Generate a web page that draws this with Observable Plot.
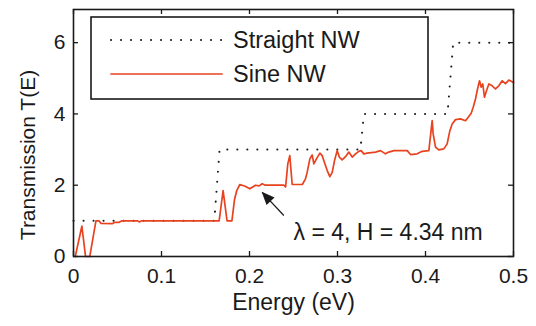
<!DOCTYPE html>
<html><head><meta charset="utf-8">
<script src="https://cdn.jsdelivr.net/npm/d3@7"></script>
<script src="https://cdn.jsdelivr.net/npm/@observablehq/plot@0.6"></script>
<style>body{margin:0;background:#fff} #chart{width:536px;height:326px}</style>
</head><body><div id="chart"></div>
<script>
// ---- data ----
const seriesNames = ["Straight NW", "Sine NW"];
const straightE = [0, 0.160, 0.166, 0.326, 0.330, 0.425, 0.4315, 0.5];
const straightT = [1, 1, 3, 3, 4, 4, 6, 6];
const sineE = [0.002,0.0095,0.0137,0.0185,0.0255,0.029,0.031,0.044,0.047,0.052,0.055,0.073,0.075,0.077,0.163,
  0.1655,0.170,0.1745,0.180,0.183,0.1855,0.189,0.195,0.2004,0.2068,0.211,0.2144,0.218,0.239,0.241,0.2435,0.2458,0.2485,
  0.26,0.2636,0.2655,0.2686,0.2712,0.2731,0.2761,0.28,0.2826,0.2852,0.2883,0.2913,0.294,0.2966,0.2996,0.3023,0.3053,
  0.3091,0.3129,0.3167,0.3205,0.3242,0.3269,0.3299,0.3337,0.3432,0.3489,0.3545,0.3583,0.364,0.3792,0.383,0.3905,0.3962,
  0.4038,0.4057,0.4076,0.4087,0.4114,0.4151,0.4208,0.4246,0.4277,0.4303,0.4341,0.4398,0.4455,0.4492,0.4519,0.4542,
  0.4568,0.4587,0.4614,0.4633,0.4651,0.467,0.4693,0.472,0.4758,0.4795,0.4833,0.4871,0.4909,0.4947,0.5];
const sineT = [0,0.85,0,0,1.0,1.0,0.93,0.92,0.96,0.96,1.0,1.0,0.97,1.0,1.0,
  1.0,1.85,1.0,1.0,1.6,1.85,2.02,1.97,1.9,2.0,1.98,2.04,2.0,2.0,1.95,2.6,2.83,2.02,
  2.02,2.18,2.36,2.74,2.85,2.6,2.74,2.9,2.83,2.64,2.41,2.24,2.36,2.69,2.97,2.78,2.71,
  2.8,2.93,2.79,2.88,2.95,2.97,2.88,2.9,2.93,2.97,2.88,2.93,2.97,2.97,2.86,2.88,2.95,
  2.97,3.39,3.81,3.44,3.07,2.99,3.02,3.16,3.53,3.72,3.84,3.86,3.81,3.93,4.02,4.19,
  4.42,4.65,4.93,4.75,4.84,4.47,4.65,4.84,4.79,4.7,4.79,4.93,4.85,4.95,4.88];
const xTicks = [0, 0.1, 0.2, 0.3, 0.4, 0.5];
const yTicks = [0, 2, 4, 6];
const xLabel = "Energy (eV)";
const yLabel = "Transmission T(E)";
const noteText = "λ = 4, H = 4.34 nm";
const noteE = 0.25, noteT = 0.45;
const arrowFromE = 0.239, arrowFromT = 1.15;
const arrowToE = 0.2144, arrowToT = 1.80;

// ---- layout ----
const W = 536, H = 326, mL = 73, mR = 23, mT = 9, mB = 70;
const innerW = W - mL - mR, innerH = H - mT - mB;
const red = "#e8421f", ink = "#1a1a1a";
const font = "'Liberation Sans', Arial, Helvetica, sans-serif";

const straight = straightE.map((e, i) => ({E: e, T: straightT[i]}));
const sine = sineE.map((e, i) => ({E: e, T: sineT[i]}));

const chart = Plot.plot({
  width: W, height: H, marginLeft: mL, marginRight: mR, marginTop: mT, marginBottom: mB,
  style: {fontFamily: font, fontSize: "21px", color: ink, background: "#fff"},
  x: {domain: [0, 0.5], ticks: xTicks, tickSize: 0, tickPadding: 12, label: null, tickFormat: d => String(d)},
  y: {domain: [0, 6.93], ticks: yTicks, tickSize: 0, tickPadding: 8, label: null, tickFormat: d => String(d)},
  marks: [
    Plot.line(straight, {x: "E", y: "T", stroke: ink, strokeWidth: 2, strokeDasharray: "0.1 9.9", strokeLinecap: "round"}),
    Plot.line(sine, {x: "E", y: "T", stroke: red, strokeWidth: 1.7}),
    Plot.tickX(xTicks, {x: d => d, insetTop: innerH - 5, stroke: ink, strokeWidth: 1.3}),
    Plot.tickX(xTicks, {x: d => d, insetBottom: innerH - 5, stroke: ink, strokeWidth: 1.3}),
    Plot.tickY(yTicks, {y: d => d, insetRight: innerW - 5, stroke: ink, strokeWidth: 1.3}),
    Plot.tickY(yTicks, {y: d => d, insetLeft: innerW - 5, stroke: ink, strokeWidth: 1.3}),
    Plot.link([{x1: arrowFromE, y1: arrowFromT, x2: arrowToE, y2: arrowToT}], {x1: "x1", y1: "y1", x2: "x2", y2: "y2", stroke: ink, strokeWidth: 1.2}),
    Plot.text([{E: noteE, T: noteT, s: noteText}], {x: "E", y: "T", text: "s", textAnchor: "start", lineAnchor: "bottom", fontSize: 23, fill: ink}),
    Plot.text([xLabel], {frameAnchor: "bottom", dy: 53, fontSize: 23, fill: ink}),
    Plot.frame({stroke: ink, strokeWidth: 1.6})
  ]
});
document.getElementById("chart").appendChild(chart);

const svg = d3.select(chart);
const sx = chart.scale("x"), sy = chart.scale("y");

// y label
svg.append("text").attr("transform", `translate(28,155) rotate(-90)`)
  .attr("text-anchor", "middle").attr("dy", "0.35em")
  .attr("font-family", font).attr("font-size", 21).attr("fill", ink).text(yLabel);

// arrow head (filled)
{
  const x1 = sx.apply(arrowFromE), y1 = sy.apply(arrowFromT);
  const x2 = sx.apply(arrowToE), y2 = sy.apply(arrowToT);
  const a = Math.atan2(y2 - y1, x2 - x1) * 180 / Math.PI;
  svg.append("path").attr("d", "M0,0L-13,-5.5L-13,5.5Z")
    .attr("transform", `translate(${x2},${y2}) rotate(${a})`).attr("fill", ink);
}

// legend box
const lg = svg.append("g");
lg.append("rect").attr("x", 91).attr("y", 17).attr("width", 337).attr("height", 82)
  .attr("fill", "#fff").attr("stroke", ink).attr("stroke-width", 1.6);
const rows = [
  {name: seriesNames[0], y: 40, stroke: ink, dash: "0.1 9.9", w: 2},
  {name: seriesNames[1], y: 74, stroke: red, dash: null, w: 1.7}
];
rows.forEach(r => {
  lg.append("line").attr("x1", 111).attr("x2", 222).attr("y1", r.y).attr("y2", r.y)
    .attr("stroke", r.stroke).attr("stroke-width", r.w).attr("stroke-linecap", "round")
    .attr("stroke-dasharray", r.dash);
  lg.append("text").attr("x", 233).attr("y", r.y).attr("dy", "0.36em").attr("text-anchor", "start")
    .attr("font-family", font).attr("font-size", 23.5).attr("fill", ink).text(r.name);
});
</script>
</body></html>
